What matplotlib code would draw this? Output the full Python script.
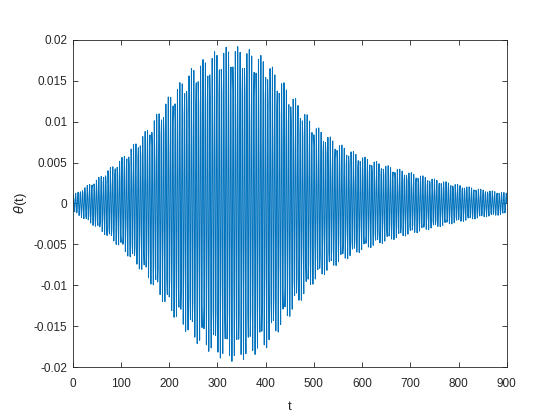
import numpy as np
import matplotlib
matplotlib.use("Agg")
import matplotlib.pyplot as plt

plt.rcParams["font.family"] = ["Liberation Sans", "DejaVu Sans"]

# envelope of theta(t)
env_t = [0, 50, 100, 150, 200, 250, 300, 330, 360, 400, 450, 500, 550, 600, 650, 700, 750, 800, 850, 900]
env_amp = [0.0010, 0.0030, 0.0055, 0.0088, 0.0132, 0.0168, 0.0188, 0.0193, 0.0190, 0.0178,
           0.0138, 0.0097, 0.0074, 0.0058, 0.0047, 0.0038, 0.0030, 0.0023, 0.0017, 0.0013]
period = 4.8  # oscillation period in t, estimated from spike spacing
dt = 1.0      # sample step of the stored solution

x_ticks = list(range(0, 1000, 100))
y_ticks = [-0.02, -0.015, -0.01, -0.005, 0, 0.005, 0.01, 0.015, 0.02]
y_labels = ["-0.02", "-0.015", "-0.01", "-0.005", "0", "0.005", "0.01", "0.015", "0.02"]

t = np.arange(0, 900 + dt / 2, dt)
theta = np.interp(t, env_t, env_amp) * np.sin(2 * np.pi * t / period)

fig = plt.figure(figsize=(5.6, 4.2), dpi=100)
ax = fig.add_axes([0.130, 0.126, 0.775, 0.779])
ax.plot(t, theta, color="#0072BD", linewidth=0.7)

ax.set_xlim(0, 900)
ax.set_ylim(-0.02, 0.02)
ax.set_xticks(x_ticks)
ax.set_xticklabels([str(v) for v in x_ticks])
ax.set_yticks(y_ticks)
ax.set_yticklabels(y_labels)

axcol = "#262626"
for s in ax.spines.values():
    s.set_color(axcol)
    s.set_linewidth(0.6)
ax.tick_params(direction="in", length=3.5, width=0.6, colors=axcol,
               labelsize=8.5, top=True, right=True, pad=4)
ax.tick_params(axis="x", pad=8)
ax.set_xlabel("t", fontsize=9.5, color=axcol, labelpad=8)
ax.set_ylabel(r"$\theta$(t)", fontsize=9.5, color=axcol, labelpad=3)

fig.savefig("out.png", dpi=100, facecolor="white")
